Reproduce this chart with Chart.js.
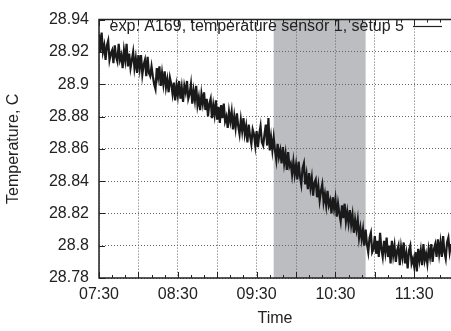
<!DOCTYPE html>
<html>
<head>
<meta charset="utf-8">
<script src="https://cdn.jsdelivr.net/npm/chart.js@4/dist/chart.umd.min.js"></script>
<style>
  body { margin: 0; background: #fff; }
  #wrap { width: 451px; height: 331px; }
</style>
</head>
<body>
<div id="wrap"><canvas id="chart" width="451" height="331"></canvas></div>
<script>
// time axis: minutes after 07:30, one sample per minute
var startHour = 7;
var startMin = 30;
var sampleStep = 1;
var xMax = 268;

// shaded interval (minutes after 07:30)
var shadeFrom = 133;
var shadeTo = 203;

var legendText = 'exp. A169, temperature sensor 1, setup 5';

var yTicks = [28.78, 28.80, 28.82, 28.84, 28.86, 28.88, 28.90, 28.92, 28.94];

var temps = [
  28.931, 28.920, 28.932, 28.920, 28.924, 28.915, 28.924, 28.927, 28.915, 28.919,
  28.921, 28.913, 28.924, 28.917, 28.914, 28.925, 28.915, 28.918, 28.910, 28.921,
  28.915, 28.925, 28.911, 28.919, 28.910, 28.915, 28.920, 28.910, 28.916, 28.907,
  28.918, 28.910, 28.918, 28.906, 28.912, 28.915, 28.905, 28.917, 28.907, 28.905,
  28.911, 28.905, 28.900, 28.897, 28.910, 28.904, 28.911, 28.899, 28.907, 28.900,
  28.908, 28.898, 28.903, 28.895, 28.904, 28.900, 28.894, 28.901, 28.890, 28.899,
  28.893, 28.902, 28.891, 28.898, 28.889, 28.899, 28.895, 28.902, 28.891, 28.894,
  28.900, 28.888, 28.896, 28.890, 28.899, 28.887, 28.892, 28.884, 28.894, 28.888,
  28.895, 28.884, 28.891, 28.880, 28.888, 28.891, 28.879, 28.887, 28.881, 28.890,
  28.878, 28.886, 28.876, 28.887, 28.879, 28.888, 28.877, 28.880, 28.873, 28.883,
  28.877, 28.883, 28.872, 28.880, 28.873, 28.882, 28.874, 28.869, 28.878, 28.871,
  28.879, 28.869, 28.874, 28.864, 28.875, 28.868, 28.863, 28.872, 28.869, 28.862,
  28.871, 28.861, 28.869, 28.874, 28.864, 28.862, 28.869, 28.875, 28.862, 28.879,
  28.859, 28.867, 28.859, 28.867, 28.859, 28.853, 28.863, 28.855, 28.859, 28.851,
  28.861, 28.851, 28.857, 28.847, 28.858, 28.849, 28.851, 28.844, 28.852, 28.844,
  28.850, 28.841, 28.852, 28.843, 28.838, 28.848, 28.851, 28.838, 28.844, 28.835,
  28.845, 28.836, 28.842, 28.831, 28.839, 28.841, 28.830, 28.837, 28.828, 28.834,
  28.838, 28.827, 28.832, 28.825, 28.834, 28.825, 28.828, 28.820, 28.830, 28.823,
  28.829, 28.818, 28.826, 28.820, 28.815, 28.825, 28.817, 28.826, 28.815, 28.821,
  28.814, 28.822, 28.813, 28.819, 28.808, 28.816, 28.810, 28.816, 28.805, 28.811,
  28.804, 28.810, 28.800, 28.810, 28.801, 28.796, 28.805, 28.808, 28.796, 28.798,
  28.806, 28.795, 28.803, 28.793, 28.808, 28.798, 28.793, 28.803, 28.796, 28.805,
  28.793, 28.800, 28.789, 28.803, 28.794, 28.800, 28.790, 28.797, 28.800, 28.788,
  28.799, 28.793, 28.802, 28.789, 28.795, 28.786, 28.797, 28.800, 28.789, 28.792,
  28.787, 28.796, 28.784, 28.798, 28.791, 28.797, 28.788, 28.801, 28.791, 28.795,
  28.789, 28.798, 28.793, 28.801, 28.790, 28.798, 28.801, 28.793, 28.804, 28.795,
  28.802, 28.793, 28.806, 28.796, 28.792, 28.802, 28.805, 28.796, 28.801
];

function fmtTime(m) {
  var t = startHour * 60 + startMin + m;
  var h = Math.floor(t / 60);
  var mm = t % 60;
  return (h < 10 ? '0' : '') + h + ':' + (mm < 10 ? '0' : '') + mm;
}

var points = [];
for (var i = 0; i < temps.length; i++) {
  points.push({ x: i * sampleStep, y: temps[i] });
}

// gray band behind everything
var shadePlugin = {
  id: 'shade',
  beforeDraw: function (chart) {
    var ctx = chart.ctx;
    var x = chart.scales.x;
    var a = chart.chartArea;
    var x1 = x.getPixelForValue(shadeFrom);
    var x2 = x.getPixelForValue(shadeTo);
    ctx.save();
    ctx.fillStyle = '#bcbdc1';
    ctx.fillRect(x1, a.top, x2 - x1, a.bottom - a.top);
    ctx.restore();
  }
};

// frame, inward ticks (gnuplot style) and the key
var framePlugin = {
  id: 'frame',
  afterDraw: function (chart) {
    var ctx = chart.ctx;
    var a = chart.chartArea;
    var x = chart.scales.x;
    var y = chart.scales.y;
    ctx.save();
    ctx.strokeStyle = '#222';
    ctx.lineWidth = 1.5;
    ctx.beginPath();
    ctx.moveTo(a.right + 2, a.top);
    ctx.lineTo(a.left, a.top);
    ctx.lineTo(a.left, a.bottom);
    ctx.lineTo(a.right + 2, a.bottom);
    ctx.stroke();

    ctx.lineWidth = 1;
    ctx.beginPath();
    for (var m = 0; m <= xMax; m += 10) {
      var px = Math.round(x.getPixelForValue(m)) + 0.5;
      var len = (m % 30 === 0) ? 6 : 3;
      ctx.moveTo(px, a.bottom);
      ctx.lineTo(px, a.bottom - len);
      ctx.moveTo(px, a.top);
      ctx.lineTo(px, a.top + len);
    }
    for (var k = 0; k < yTicks.length; k++) {
      var py = Math.round(y.getPixelForValue(yTicks[k])) + 0.5;
      ctx.moveTo(a.left, py);
      ctx.lineTo(a.left + 6, py);
    }
    ctx.stroke();

    ctx.fillStyle = '#222';
    ctx.font = '16px "Liberation Sans", Arial, sans-serif';
    ctx.textAlign = 'right';
    ctx.textBaseline = 'middle';
    ctx.fillText(legendText, 404, 27);
    ctx.lineWidth = 1.2;
    ctx.beginPath();
    ctx.moveTo(413, 26.5);
    ctx.lineTo(442, 26.5);
    ctx.stroke();
    ctx.restore();
  }
};

function init() {
  Chart.defaults.font.family = '"Liberation Sans", Arial, sans-serif';
  Chart.defaults.font.size = 16;
  Chart.defaults.color = '#222';

  var canvas = document.getElementById('chart');

  var chart = new Chart(canvas, {
    type: 'line',
    data: {
      datasets: [{
        label: legendText,
        data: points,
        borderColor: '#1a1a1a',
        borderWidth: 2.2,
        pointRadius: 0,
        tension: 0,
        fill: false
      }]
    },
    options: {
      responsive: false,
      animation: false,
      devicePixelRatio: 1,
      layout: { padding: { top: 14, right: 0, left: 0, bottom: 0 } },
      plugins: {
        legend: { display: false },
        tooltip: { enabled: false }
      },
      scales: {
        x: {
          type: 'linear',
          min: 0,
          max: xMax,
          afterFit: function (s) { s.height = 53; },
          ticks: {
            stepSize: 30,
            includeBounds: false,
            autoSkip: false,
            maxRotation: 0,
            padding: 7,
            callback: function (v) { return v % 60 === 0 ? fmtTime(v) : ''; }
          },
          grid: { color: '#666', drawTicks: false, lineWidth: 1 },
          border: { display: false, dash: [1, 2] },
          title: { display: true, text: 'Time', padding: { top: 4, bottom: 3 } }
        },
        y: {
          min: 28.78,
          max: 28.94,
          afterFit: function (s) { s.width = 99; },
          ticks: {
            stepSize: 0.02,
            padding: 10,
            callback: function (v) { return String(Number(v.toFixed(2))); }
          },
          grid: { color: '#666', drawTicks: false, lineWidth: 1 },
          border: { display: false, dash: [1, 2] },
          title: { display: true, text: 'Temperature, C', padding: { top: 4, bottom: 4 } }
        }
      }
    },
    plugins: [shadePlugin, framePlugin]
  });
}

init();
</script>
</body>
</html>
